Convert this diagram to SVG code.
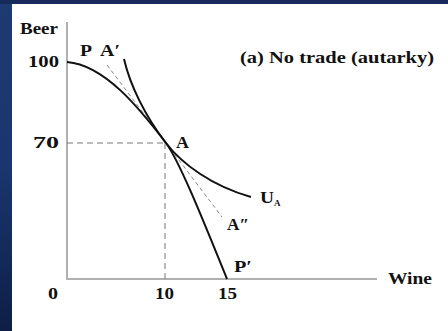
<svg xmlns="http://www.w3.org/2000/svg" width="448" height="331" viewBox="0 0 448 331">
<defs>
<linearGradient id="bandL" x1="0" y1="0" x2="0" y2="1">
<stop offset="0" stop-color="#1d3a72"/>
<stop offset="0.5" stop-color="#1a3670"/>
<stop offset="1" stop-color="#0d1f46"/>
</linearGradient>
<style>
.t{font-family:"Liberation Serif","Times New Roman",serif;font-weight:bold;font-size:16px;fill:#111}
.axis{stroke:#b0b0b0;stroke-width:2;fill:none}
.curve{stroke:#111;stroke-width:2;fill:none}
.guide{stroke:#777;stroke-width:1;stroke-dasharray:6 4;fill:none}
.tan{stroke:#888;stroke-width:1;stroke-dasharray:4 3;fill:none}
</style>
</defs>
<rect x="0" y="0" width="448" height="331" fill="url(#bandL)"/>
<rect x="0" y="0" width="448" height="4" fill="#162a5c"/>
<rect x="12" y="4" width="436" height="327" fill="#ffffff"/>

<g id="axes">
<path class="axis" d="M67,22 V279 H377"/>
<text class="t" x="20" y="34" textLength="38" lengthAdjust="spacingAndGlyphs">Beer</text>
<text class="t" x="388" y="284" textLength="44" lengthAdjust="spacingAndGlyphs">Wine</text>
<text class="t" x="28" y="67" textLength="31" lengthAdjust="spacingAndGlyphs">100</text>
<text class="t" x="33" y="148" textLength="26" lengthAdjust="spacingAndGlyphs">70</text>
<text class="t" x="48" y="299" textLength="10" lengthAdjust="spacingAndGlyphs">0</text>
<text class="t" x="155" y="299" textLength="19" lengthAdjust="spacingAndGlyphs">10</text>
<text class="t" x="218" y="299" textLength="19" lengthAdjust="spacingAndGlyphs">15</text>
</g>

<g id="title">
<text class="t" x="240" y="63" textLength="194" lengthAdjust="spacingAndGlyphs">(a) No trade (autarky)</text>
</g>

<g id="connectors">
<path class="guide" d="M67,143 H166"/>
<path class="guide" d="M165,143 V279"/>
<path class="tan" d="M107,65 L222,217"/>
</g>

<g id="ppf">
<path class="curve" d="M67,62 C105,65 140,109 166,143 C180,162 205,225 227,279"/>
<text class="t" x="80" y="56" textLength="12" lengthAdjust="spacingAndGlyphs">P</text>
<text class="t" x="234" y="272" textLength="18" lengthAdjust="spacingAndGlyphs">P′</text>
</g>

<g id="indifference">
<path class="curve" d="M124,59 C130,85 145,116 166,143 C182,164 212,186 251,197"/>
<text class="t" x="260" y="203" textLength="14" lengthAdjust="spacingAndGlyphs">U</text>
<text class="t" x="274" y="206" style="font-size:9px">A</text>
</g>

<g id="pointA">
<text class="t" x="176" y="148" textLength="13" lengthAdjust="spacingAndGlyphs">A</text>
</g>
<g id="pointA1">
<text class="t" x="100" y="56" textLength="20" lengthAdjust="spacingAndGlyphs">A′</text>
</g>
<g id="pointA2">
<text class="t" x="227" y="230" textLength="22" lengthAdjust="spacingAndGlyphs">A″</text>
</g>
</svg>
